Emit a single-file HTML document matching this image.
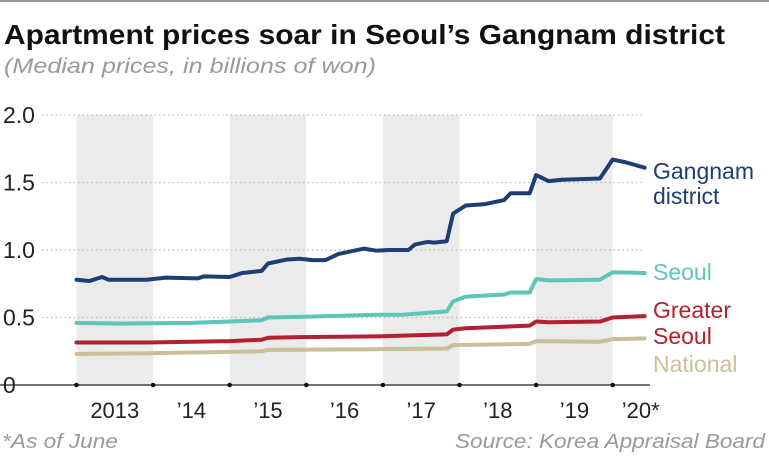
<!DOCTYPE html>
<html><head><meta charset="utf-8"><style>
html,body{margin:0;padding:0;background:#fff;width:769px;height:460px;overflow:hidden}
svg text{font-family:"Liberation Sans",sans-serif}
</style></head><body>
<svg width="769" height="460" viewBox="0 0 769 460">
<rect x="0" y="0" width="769" height="2" fill="#999"/>
<text x="4" y="44" font-size="28" font-weight="bold" fill="#111" textLength="721" lengthAdjust="spacingAndGlyphs">Apartment prices soar in Seoul’s Gangnam district</text>
<text x="4" y="73" font-size="21" font-style="italic" fill="#999" textLength="372" lengthAdjust="spacingAndGlyphs">(Median prices, in billions of won)</text>
<g id="bands"></g>
<g id="grid"></g>
<g id="series"></g>
<g id="axis"></g>
<g id="labels"></g>
<text x="2" y="448" font-size="20" font-style="italic" fill="#999" textLength="116" lengthAdjust="spacingAndGlyphs">*As of June</text>
<text x="455" y="448" font-size="20" font-style="italic" fill="#999" textLength="310" lengthAdjust="spacingAndGlyphs">Source: Korea Appraisal Board</text>
</svg>
<script>
const yTicks=[0,0.5,1.0,1.5,2.0];
const yTickLabels=["0","0.5","1.0","1.5","2.0"];
const xYears=["2013","’14","’15","’16","’17","’18","’19","’20*"];
const gangnamMonths=[0,2,4,5,11,14,19,20,24,26,29,30,33,35,37,39,41,43,45,47,49,52,53,55,56,58,59,61,64,67,68,71,72,74,76,82,84,86,89];
const gangnamValues=[0.78,0.77,0.80,0.78,0.78,0.795,0.79,0.805,0.80,0.83,0.845,0.90,0.93,0.935,0.925,0.925,0.97,0.99,1.01,0.995,1.0,1.0,1.04,1.06,1.055,1.065,1.27,1.33,1.34,1.37,1.42,1.42,1.555,1.51,1.52,1.53,1.67,1.65,1.61];
const seoulMonths=[0,7,18,24,29,30,35,47,51,58,59,61,67,68,71,72,74,82,84,89];
const seoulValues=[0.46,0.455,0.46,0.47,0.48,0.50,0.505,0.52,0.52,0.545,0.62,0.655,0.67,0.685,0.685,0.785,0.775,0.78,0.835,0.83];
const greaterMonths=[0,11,24,29,30,35,47,58,59,61,71,72,74,82,84,89];
const greaterValues=[0.315,0.315,0.325,0.335,0.35,0.355,0.36,0.375,0.41,0.42,0.44,0.47,0.465,0.47,0.50,0.51];
const nationalMonths=[0,11,24,29,30,47,58,59,71,72,82,84,89];
const nationalValues=[0.23,0.235,0.245,0.25,0.26,0.265,0.27,0.295,0.305,0.325,0.32,0.34,0.345];

const NS="http://www.w3.org/2000/svg";
const X0=76.5,YW=76.6,Y0=385,YK=135;
const xm=m=>X0+m*YW/12;
const yv=v=>Y0-v*YK;
function mk(tag,attrs,parent){const e=document.createElementNS(NS,tag);for(const k in attrs)e.setAttribute(k,attrs[k]);parent.appendChild(e);return e;}
const bands=document.getElementById('bands'),grid=document.getElementById('grid'),series=document.getElementById('series'),axis=document.getElementById('axis'),labels=document.getElementById('labels');
for(let i=0;i<xYears.length;i+=2){
  const r=mk('rect',{x:xm(i*12),y:yv(2),width:YW,height:yv(0)-yv(2),fill:'#ebebeb'},bands);
  
  
}
yTicks.forEach((t,i)=>{
  if(t>0){const l=mk('line',{x1:42,x2:645,y1:yv(t),y2:yv(t),stroke:'#bbb','stroke-width':1.3,'stroke-dasharray':'1.5 3'},grid);
  
  }
  const tx=mk('text',{x:3,y:yv(t)+8,'font-size':23,fill:'#222'},grid);
  tx.textContent=yTickLabels[i];
  
  
});
const al=mk('line',{x1:0,x2:650,y1:Y0,y2:Y0,stroke:'#222','stroke-width':1.2},axis);


for(let i=0;i<xYears.length;i++){
  const d=mk('circle',{cx:xm(i*12),cy:Y0,r:2.3,fill:'#111'},axis);
  
  
  const cx=i<xYears.length-1?xm(i*12+6):xm(i*12)+28;
  const t=mk('text',{x:cx,y:418,'font-size':22,fill:'#222','text-anchor':'middle'},axis);
  t.textContent=xYears[i];
  
  
}
function line(ms,vs,color,name){
  const p=mk('polyline',{points:ms.map((m,i)=>xm(m)+','+yv(vs[i])).join(' '),fill:'none',stroke:color,'stroke-width':4,'stroke-linejoin':'round','stroke-linecap':'round'},series);
  
  
}
line(nationalMonths,nationalValues,'#cbbf9a','national-line');
line(greaterMonths,greaterValues,'#b3202f','greater-seoul-line');
line(seoulMonths,seoulValues,'#5ec6b9','seoul-line');
line(gangnamMonths,gangnamValues,'#1d3e72','gangnam-line');
function lab(txt,y,color,name){
  const t=mk('text',{x:653,y:y,'font-size':23,fill:color},labels);
  t.textContent=txt;
  
  
}
lab('Gangnam',179,'#1d3e72','gangnam-label');
lab('district',204,'#1d3e72','gangnam-label-2');
lab('Seoul',280,'#5ec6b9','seoul-label');
lab('Greater',318,'#b3202f','greater-seoul-label');
lab('Seoul',344,'#b3202f','greater-seoul-label-2');
lab('National',372,'#cbbf9a','national-label');
</script>
</body></html>
